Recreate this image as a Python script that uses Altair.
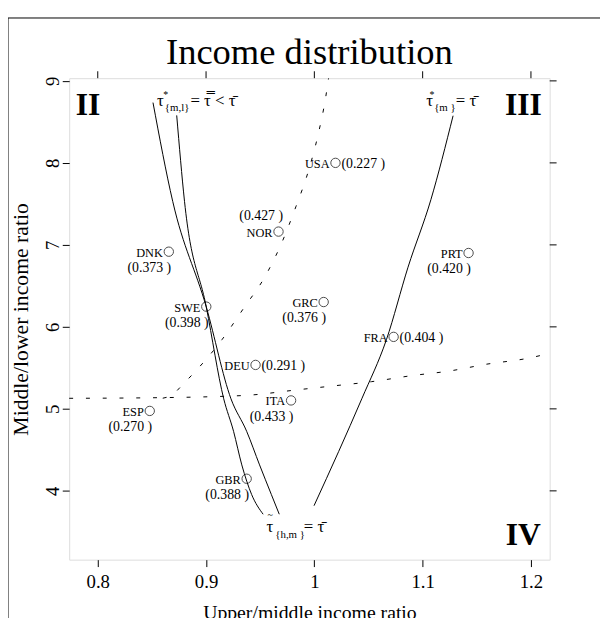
import altair as alt
import pandas as pd

# ---------------- data ----------------
countries = ["USA", "NOR", "DNK", "SWE", "GRC", "PRT", "FRA", "DEU", "ITA", "ESP", "GBR"]
upper_mid = [1.0195, 0.9669, 0.8656, 0.9002, 1.0086, 1.1424, 1.0732, 0.9457, 0.9785, 0.8480, 0.9375]
mid_low = [8.00, 7.162, 6.917, 6.247, 6.303, 6.901, 5.878, 5.536, 5.103, 4.975, 4.148]
tau_vals = ["0.227", "0.427", "0.373", "0.398", "0.376", "0.420", "0.404", "0.291", "0.433", "0.270", "0.388"]
value_pos = ["right", "above", "below", "below", "below", "below", "right", "right", "below", "below", "below"]

# solid iso-curves
curveA_x = [0.8510, 0.8692, 0.9002, 0.9230, 0.9375, 0.9494, 0.9603, 0.9676]
curveA_y = [8.735, 7.531, 6.243, 5.123, 4.726, 4.317, 3.955, 3.715]
curveB_x = [0.8729, 0.8801, 0.9002, 0.9163, 0.9254, 0.9330, 0.9421, 0.9527]
curveB_y = [8.579, 7.531, 6.243, 5.123, 4.726, 4.317, 3.955, 3.715]
curveC_x = [1.1281, 1.1076, 1.0865, 1.0666, 1.0438, 1.0225, 0.9997]
curveC_y = [8.575, 7.551, 6.728, 5.846, 5.123, 4.482, 3.819]

# dotted boundary curves
dot1_x = [0.8600, 0.8677, 0.8804, 0.8926, 0.9148, 0.9351, 0.9542, 0.9700, 0.9831, 0.9943, 1.0034, 1.0104, 1.0131]
dot1_y = [5.130, 5.163, 5.324, 5.493, 5.846, 6.235, 6.608, 7.029, 7.471, 7.892, 8.341, 8.795, 9.030]
dot2_x = [0.7736, 0.8464, 0.9345, 0.9861, 1.0195, 1.0529, 1.0893, 1.1258, 1.1591, 1.1955, 1.2173]
dot2_y = [5.129, 5.135, 5.163, 5.235, 5.283, 5.332, 5.404, 5.464, 5.545, 5.613, 5.677]

x_ticks = [0.8, 0.9, 1.0, 1.1, 1.2]
y_ticks = [4, 5, 6, 7, 8, 9]
x_domain = [0.7736, 1.2173]
y_domain = [3.161, 9.033]

# region labels
regions = ["II", "III", "IV"]
region_x = [0.7909, 1.1930, 1.1930]
region_y = [8.699, 8.699, 3.462]

# ---------------- frames ----------------
SERIF = "Liberation Serif"
W, H = 487, 488

solid = pd.concat([
    pd.DataFrame({"curve": "A", "x": curveA_x, "y": curveA_y}),
    pd.DataFrame({"curve": "B", "x": curveB_x, "y": curveB_y}),
    pd.DataFrame({"curve": "C", "x": curveC_x, "y": curveC_y}),
])
dotted = pd.concat([
    pd.DataFrame({"curve": "D1", "x": dot1_x, "y": dot1_y}),
    pd.DataFrame({"curve": "D2", "x": dot2_x, "y": dot2_y}),
])
pts = pd.DataFrame({"country": countries, "x": upper_mid, "y": mid_low,
                    "val": ["(" + v + " )" for v in tau_vals], "pos": value_pos})

xs = alt.Scale(domain=x_domain, nice=False, zero=False)
ys = alt.Scale(domain=y_domain, nice=False, zero=False)

X = alt.X("x:Q", scale=xs, axis=alt.Axis(
    values=x_ticks, format="~g", title="Upper/middle income ratio",
    grid=False, domain=False, tickSize=7, tickColor="black", labelColor="black",
    labelFont=SERIF, labelFontSize=19, labelPadding=6, labelFlush=False,
    titleFont=SERIF, titleFontSize=20, titleFontWeight="normal", titleColor="black",
    titleY=60, titleBaseline="alphabetic"))
Y = alt.Y("y:Q", scale=ys, axis=alt.Axis(
    values=y_ticks, format="d", title="Middle/lower income ratio",
    grid=False, domain=False, tickSize=7, tickColor="black", labelColor="black",
    labelFont=SERIF, labelFontSize=19, labelAngle=270, labelAlign="center",
    labelBaseline="alphabetic", labelPadding=4, labelFlush=False,
    titleFont=SERIF, titleFontSize=22, titleFontWeight="normal", titleColor="black",
    titleX=-42, titleY=H / 2, titleAngle=270, titleBaseline="alphabetic"))

base_solid = alt.Chart(solid).mark_line(color="black", strokeWidth=1, interpolate="monotone").encode(
    x=X, y=Y, detail="curve:N")

dots = alt.Chart(dotted).mark_line(color="black", strokeWidth=1, strokeDash=[4, 13],
                                   interpolate="monotone").encode(
    x=alt.X("x:Q", scale=xs), y=alt.Y("y:Q", scale=ys), detail="curve:N")

points = alt.Chart(pts).mark_point(shape="circle", filled=False, color="black",
                                   size=90, strokeWidth=1).encode(
    x=alt.X("x:Q", scale=xs), y=alt.Y("y:Q", scale=ys))

names = alt.Chart(pts).mark_text(font=SERIF, fontSize=12.5, align="right", baseline="middle",
                                 dx=-6, dy=1, color="black").encode(
    x=alt.X("x:Q", scale=xs), y=alt.Y("y:Q", scale=ys), text="country:N")

vals_right = alt.Chart(pts).transform_filter(alt.datum.pos == "right").mark_text(
    font=SERIF, fontSize=14, align="left", baseline="middle", dx=6, dy=1, color="black").encode(
    x=alt.X("x:Q", scale=xs), y=alt.Y("y:Q", scale=ys), text="val:N")

vals_below = alt.Chart(pts).transform_filter(alt.datum.pos == "below").transform_calculate(
    vx="datum.x - 0.018", vy="datum.y - 0.2").mark_text(
    font=SERIF, fontSize=14, align="center", baseline="middle", color="black").encode(
    x=alt.X("vx:Q", scale=xs), y=alt.Y("vy:Q", scale=ys), text="val:N")

vals_above = alt.Chart(pts).transform_filter(alt.datum.pos == "above").transform_calculate(
    vx="datum.x - 0.016", vy="datum.y + 0.19").mark_text(
    font=SERIF, fontSize=14, align="center", baseline="middle", color="black").encode(
    x=alt.X("vx:Q", scale=xs), y=alt.Y("vy:Q", scale=ys), text="val:N")

reg = alt.Chart(pd.DataFrame({"t": regions, "x": region_x, "y": region_y})).mark_text(
    font=SERIF, fontSize=32, fontWeight="bold", align="center", baseline="middle", color="black").encode(
    x=alt.X("x:Q", scale=xs), y=alt.Y("y:Q", scale=ys), text="t:N")

# curve labels (tau expressions), pieces: main / superscript / subscript / rhs
ann_main = pd.DataFrame({"t": ["τ", "τ", "τ", "= τ̿ < τ̄", "= τ̄", "= τ̄"],
                         "x": [0.8546, 1.1033, 0.9557, 0.8856, 1.1306, 0.9903],
                         "y": [8.699, 8.699, 3.498, 8.699, 8.699, 3.498]})
ann_sup = pd.DataFrame({"t": ["*", "*", "~"], "x": [0.8628, 1.1087, 0.9592],
                        "y": [8.83, 8.83, 3.70]})
ann_sub = pd.DataFrame({"t": ["{m,l}", "{m }", "{h,m }"],
                        "x": [0.8619, 1.1106, 0.9639], "y": [8.627, 8.627, 3.426]})

a1 = alt.Chart(ann_main).mark_text(font=SERIF, fontSize=17, align="left", baseline="alphabetic",
                                   color="black").encode(
    x=alt.X("x:Q", scale=xs), y=alt.Y("y:Q", scale=ys), text="t:N")
a2 = alt.Chart(ann_sup).mark_text(font=SERIF, fontSize=10, align="center", baseline="middle",
                                  color="black").encode(
    x=alt.X("x:Q", scale=xs), y=alt.Y("y:Q", scale=ys), text="t:N")
a3 = alt.Chart(ann_sub).mark_text(font=SERIF, fontSize=11, align="left", baseline="alphabetic",
                                  color="black").encode(
    x=alt.X("x:Q", scale=xs), y=alt.Y("y:Q", scale=ys), text="t:N")

# ticks on top and right sides (no labels)
xt = pd.DataFrame({"x": x_ticks})
yt = pd.DataFrame({"y": y_ticks})
top_ticks = alt.Chart(xt).mark_rule(color="black", strokeWidth=1).encode(
    x=alt.X("x:Q", scale=xs), y=alt.value(-7), y2=alt.value(0))
right_ticks = alt.Chart(yt).mark_rule(color="black", strokeWidth=1).encode(
    y=alt.Y("y:Q", scale=ys), x=alt.value(W), x2=alt.value(W + 7))

# chart title as a text mark above the plot
title = alt.Chart(pd.DataFrame({"t": ["Income distribution"]})).mark_text(
    font=SERIF, fontSize=37, align="center", baseline="alphabetic", color="black").encode(
    x=alt.value(W / 2), y=alt.value(-14), text="t:N")

# outer figure frame
frame = alt.Chart(pd.DataFrame({"k": [0]})).mark_rect(fill=None, stroke="black", strokeWidth=1).encode(
    x=alt.value(-62), x2=alt.value(W + 60), y=alt.value(-61), y2=alt.value(H + 70))

chart = alt.layer(
    base_solid, dots, points, names, vals_right, vals_below, vals_above, reg, a1, a2, a3,
    top_ticks, right_ticks, title, frame
).properties(
    width=W, height=H,
    autosize=alt.AutoSizeParams(type="none"),
    padding={"left": 62, "top": 67, "right": 51, "bottom": 55},
).configure_view(stroke="black", strokeWidth=1).configure(background="white")

chart.save("out.html", embed_options={"renderer": "svg", "actions": False})
